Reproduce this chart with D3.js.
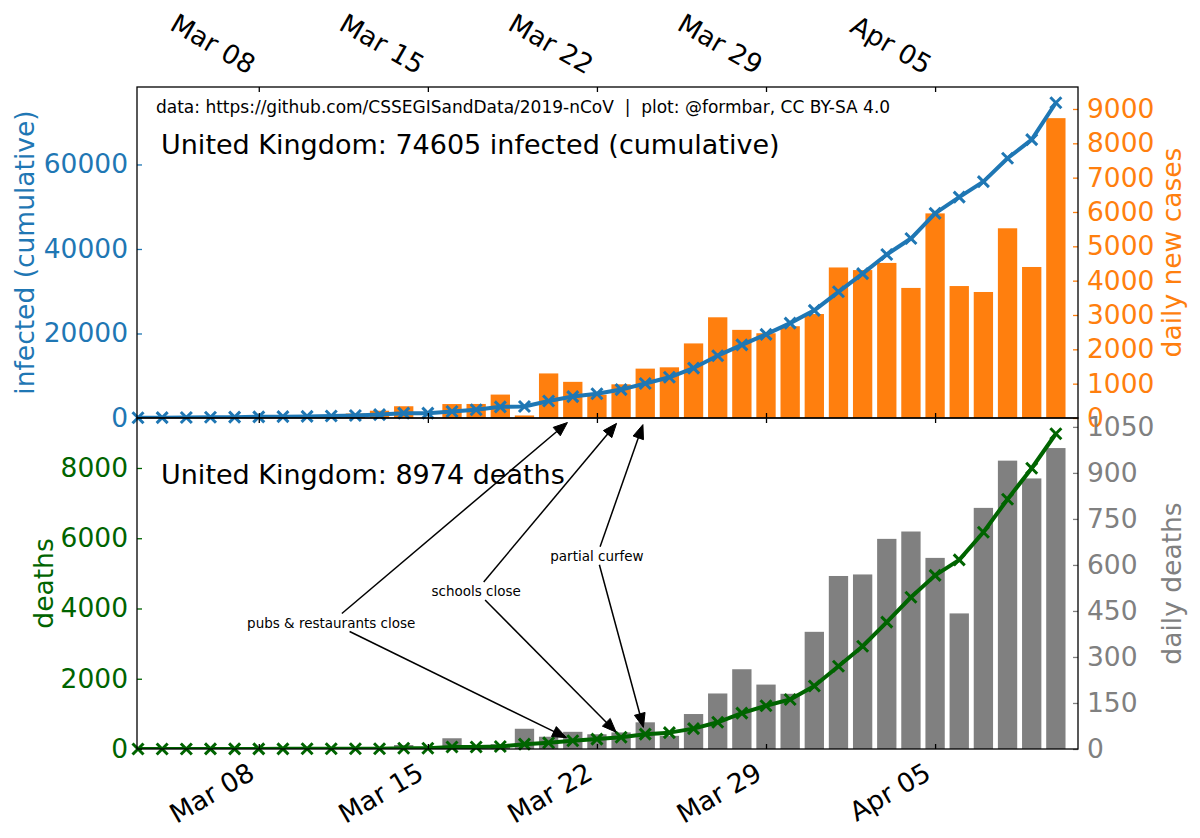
<!DOCTYPE html>
<html><head><meta charset="utf-8">
<script src="https://cdn.jsdelivr.net/npm/d3@7"></script>
<style>
html,body{margin:0;padding:0;background:#fff;}
svg{display:block;font-family:"DejaVu Sans",sans-serif;}
</style></head><body>
<svg id="c" width="1200" height="838"></svg>
<script>
// ---------------- data ----------------
const dates = ["2020-03-03","2020-03-04","2020-03-05","2020-03-06","2020-03-07","2020-03-08","2020-03-09",
  "2020-03-10","2020-03-11","2020-03-12","2020-03-13","2020-03-14","2020-03-15","2020-03-16","2020-03-17",
  "2020-03-18","2020-03-19","2020-03-20","2020-03-21","2020-03-22","2020-03-23","2020-03-24","2020-03-25",
  "2020-03-26","2020-03-27","2020-03-28","2020-03-29","2020-03-30","2020-03-31","2020-04-01","2020-04-02",
  "2020-04-03","2020-04-04","2020-04-05","2020-04-06","2020-04-07","2020-04-08","2020-04-09","2020-04-10"];
const infectedCum = [51,86,116,164,207,274,322,384,459,590,802,1144,1145,1551,1960,2642,2716,4014,5067,5745,
  6726,8164,9640,11812,14745,17312,19780,22453,25481,29865,34173,38689,42477,48436,52279,55949,61474,65872,74605];
const newCases = [11,35,30,48,43,67,48,62,75,131,212,342,1,406,409,682,74,1298,1053,678,
  981,1438,1476,2172,2933,2567,2468,2673,3028,4384,4308,4516,3788,5959,3843,3670,5525,4398,8733];
const deathsCum = [0,0,1,2,2,3,4,6,8,8,8,21,21,56,56,72,138,178,234,282,
  336,423,466,580,761,1021,1231,1411,1793,2357,2926,3611,4320,4943,5385,6171,7111,7993,8974];
const newDeaths = [0,0,1,1,0,1,1,2,2,0,0,13,0,35,0,16,66,40,56,48,
  54,87,43,114,181,260,210,180,382,564,569,685,709,623,442,786,940,882,981];

const dateTicks = ["2020-03-08","2020-03-15","2020-03-22","2020-03-29","2020-04-05"];
const infectedTicks = [0,20000,40000,60000];
const newCaseTicks = [0,1000,2000,3000,4000,5000,6000,7000,8000,9000];
const deathTicks = [0,2000,4000,6000,8000];
const newDeathTicks = [0,150,300,450,600,750,900,1050];

const annLabels = ["pubs & restaurants close","schools close","partial curfew"];
const annTargetDates = ["2020-03-21","2020-03-23","2020-03-24"];
const annTextDates = ["2020-03-11","2020-03-17","2020-03-22"];
const annTextDeaths = [3600,4500,5500];

const dataNote = "data: https://github.com/CSSEGISandData/2019-nCoV  |  plot: @formbar, CC BY-SA 4.0";
const titleCases = "United Kingdom: 74605 infected (cumulative)";
const titleDeaths = "United Kingdom: 8974 deaths";

// ---------------- layout ----------------
const L = 137, R = 1078, T1 = 87, B1 = 418, T2 = 418, B2 = 749;
const C_BLUE = "#1f77b4", C_ORANGE = "#ff7f0e", C_GREEN = "#006400", C_GRAY = "#808080";
const TICK_FS = 26.5;

const parse = d3.utcParse("%Y-%m-%d");
const D = dates.map(parse);
const svg = d3.select("#c");
svg.append("rect").attr("width",1200).attr("height",838).attr("fill","#fff");

const x = d3.scaleUtc()
  .domain([d3.utcHour.offset(D[0], -1), d3.utcHour.offset(D[D.length-1], 22.5)])
  .range([L, R]);
const dayW = x(d3.utcDay.offset(D[0],1)) - x(D[0]);
const barW = dayW * 0.8;

const yCum = d3.scaleLinear().domain([0, 78335]).range([B1, T1]);
const yNew = d3.scaleLinear().domain([0, 9640]).range([B1, T1]);
const yDeath = d3.scaleLinear().domain([0, 9423]).range([B2, T2]);
const yNewD = d3.scaleLinear().domain([0, 1079]).range([B2, T2]);

const xMark = "M-5.5,-5.5L5.5,5.5M-5.5,5.5L5.5,-5.5";

function drawPanel(yBar, barVals, barColor, yLine, lineVals, lineColor, top, bottom) {
  const g = svg.append("g");
  g.append("defs").append("clipPath").attr("id","clip"+top)
    .append("rect").attr("x",L).attr("y",top).attr("width",R-L).attr("height",bottom-top);
  const inner = g.append("g").attr("clip-path",`url(#clip${top})`);
  inner.selectAll("rect.bar").data(barVals).join("rect").attr("class","bar")
    .attr("x",(d,i)=>x(D[i]) - barW/2)
    .attr("width",barW)
    .attr("y",d=>yBar(d))
    .attr("height",d=>yBar(0)-yBar(d))
    .attr("fill",barColor);
  const line = d3.line().x((d,i)=>x(D[i])).y(d=>yLine(d));
  inner.append("path").datum(lineVals).attr("d",line)
    .attr("fill","none").attr("stroke",lineColor).attr("stroke-width",4)
    .attr("stroke-linejoin","round");
  g.selectAll("path.mk").data(lineVals).join("path").attr("class","mk")
    .attr("d",xMark)
    .attr("transform",(d,i)=>`translate(${x(D[i])},${yLine(d)})`)
    .attr("stroke",lineColor).attr("stroke-width",3).attr("fill","none");
}

drawPanel(yNew, newCases, C_ORANGE, yCum, infectedCum, C_BLUE, T1, B1);
drawPanel(yNewD, newDeaths, C_GRAY, yDeath, deathsCum, C_GREEN, T2, B2);

// ---------------- axes ----------------
const fmt = d3.utcFormat("%b %d");
const tickD = dateTicks.map(parse);

function styleAxis(sel, color) {
  sel.select(".domain").remove();
  sel.selectAll(".tick line").attr("stroke", color).attr("stroke-width",1.3);
  sel.selectAll(".tick text").attr("fill", color)
    .style("font-size", TICK_FS + "px").style("font-family","DejaVu Sans");
}

// top panel: top x axis with labels
const axTop = svg.append("g").attr("transform",`translate(0,${T1})`)
  .call(d3.axisTop(x).tickValues(tickD).tickSize(-5).tickFormat(fmt));
styleAxis(axTop, "#000");
axTop.selectAll(".tick text").attr("x",0).attr("y",0).attr("dy",null)
  .attr("text-anchor","end").attr("transform","translate(-11,-12) rotate(30)");

// top panel bottom ticks, bottom panel top ticks
const ax1b = svg.append("g").attr("transform",`translate(0,${B1})`)
  .call(d3.axisBottom(x).tickValues(tickD).tickSize(-5).tickFormat(""));
styleAxis(ax1b, "#000");
const ax2t = svg.append("g").attr("transform",`translate(0,${T2})`)
  .call(d3.axisTop(x).tickValues(tickD).tickSize(-5).tickFormat(""));
styleAxis(ax2t, "#000");

// bottom panel bottom x axis with labels
const axBot = svg.append("g").attr("transform",`translate(0,${B2})`)
  .call(d3.axisBottom(x).tickValues(tickD).tickSize(-5).tickFormat(fmt));
styleAxis(axBot, "#000");
axBot.selectAll(".tick text").attr("x",0).attr("y",0).attr("dy",null)
  .attr("text-anchor","end").attr("transform","translate(-3,29) rotate(-30)");

// y axes
const axL1 = svg.append("g").attr("transform",`translate(${L},0)`)
  .call(d3.axisLeft(yCum).tickValues(infectedTicks).tickSize(-5).tickPadding(9).tickFormat(d3.format("d")));
styleAxis(axL1, C_BLUE);
const axR1 = svg.append("g").attr("transform",`translate(${R},0)`)
  .call(d3.axisRight(yNew).tickValues(newCaseTicks).tickSize(-5).tickPadding(9).tickFormat(d3.format("d")));
styleAxis(axR1, C_ORANGE);
const axL2 = svg.append("g").attr("transform",`translate(${L},0)`)
  .call(d3.axisLeft(yDeath).tickValues(deathTicks).tickSize(-5).tickPadding(9).tickFormat(d3.format("d")));
styleAxis(axL2, C_GREEN);
const axR2 = svg.append("g").attr("transform",`translate(${R},0)`)
  .call(d3.axisRight(yNewD).tickValues(newDeathTicks).tickSize(-5).tickPadding(9).tickFormat(d3.format("d")));
styleAxis(axR2, C_GRAY);

// spines
[[T1,B1],[T2,B2]].forEach(([t,b])=>{
  svg.append("rect").attr("x",L).attr("y",t).attr("width",R-L).attr("height",b-t)
    .attr("fill","none").attr("stroke","#000").attr("stroke-width",1.3);
});

// axis labels
function vLabel(txt, xx, yy, color) {
  svg.append("text").text(txt).attr("transform",`translate(${xx},${yy}) rotate(-90)`)
    .attr("text-anchor","middle").attr("fill",color).style("font-size","26.5px");
}
vLabel("infected (cumulative)", 34, (T1+B1)/2, C_BLUE);
vLabel("daily new cases", 1181, (T1+B1)/2, C_ORANGE);
vLabel("deaths", 53, (T2+B2)/2, C_GREEN);
vLabel("daily deaths", 1181, (T2+B2)/2, C_GRAY);

// titles
svg.append("text").text(dataNote).attr("x",156).attr("y",113)
  .style("font-size","17px").style("white-space","pre").attr("fill","#000");
svg.append("text").text(titleCases).attr("x",161).attr("y",154)
  .style("font-size","27px").attr("fill","#000");
svg.append("text").text(titleDeaths).attr("x",161).attr("y",484)
  .style("font-size","27px").attr("fill","#000");

// ---------------- annotations ----------------
const annG = svg.append("g");
function arrow(sx, sy, tx, ty) {
  const dx = tx - sx, dy = ty - sy, len = Math.hypot(dx, dy);
  const ux = dx/len, uy = dy/len;
  const shrink = 7, hl = 14, hw = 5.5;
  const ex = tx - ux*shrink, ey = ty - uy*shrink;      // tip
  const bx = ex - ux*hl, by = ey - uy*hl;               // head base
  annG.append("line").attr("x1",sx).attr("y1",sy).attr("x2",bx+ux*2).attr("y2",by+uy*2)
    .attr("stroke","#000").attr("stroke-width",1.5);
  annG.append("path")
    .attr("d",`M${ex},${ey}L${bx - uy*hw},${by + ux*hw}L${bx + uy*hw},${by - ux*hw}Z`)
    .attr("fill","#000").attr("stroke","#000").attr("stroke-width",1);
}
annLabels.forEach((lab,i)=>{
  const cx = x(parse(annTextDates[i])), cy = yDeath(annTextDeaths[i]);
  const t = annG.append("text").text(lab).attr("x",cx).attr("y",cy)
    .attr("text-anchor","middle").attr("dominant-baseline","central")
    .style("font-size","13.5px").attr("fill","#000");
  const bb = t.node().getBBox();
  const hw = bb.width/2 + 2, hh = bb.height/2 + 1;
  const td = parse(annTargetDates[i]);
  const idx = dates.indexOf(annTargetDates[i]);
  const targets = [[x(td), yDeath.range()[1]], [x(td), yDeath(deathsCum[idx])]];
  targets.forEach(([tx,ty])=>{
    const dx = tx-cx, dy = ty-cy;
    const s = Math.min(Math.abs(dx)>0 ? hw/Math.abs(dx) : Infinity, Math.abs(dy)>0 ? hh/Math.abs(dy) : Infinity);
    arrow(cx + dx*s, cy + dy*s, tx, ty);
  });
});
</script>
</body></html>
